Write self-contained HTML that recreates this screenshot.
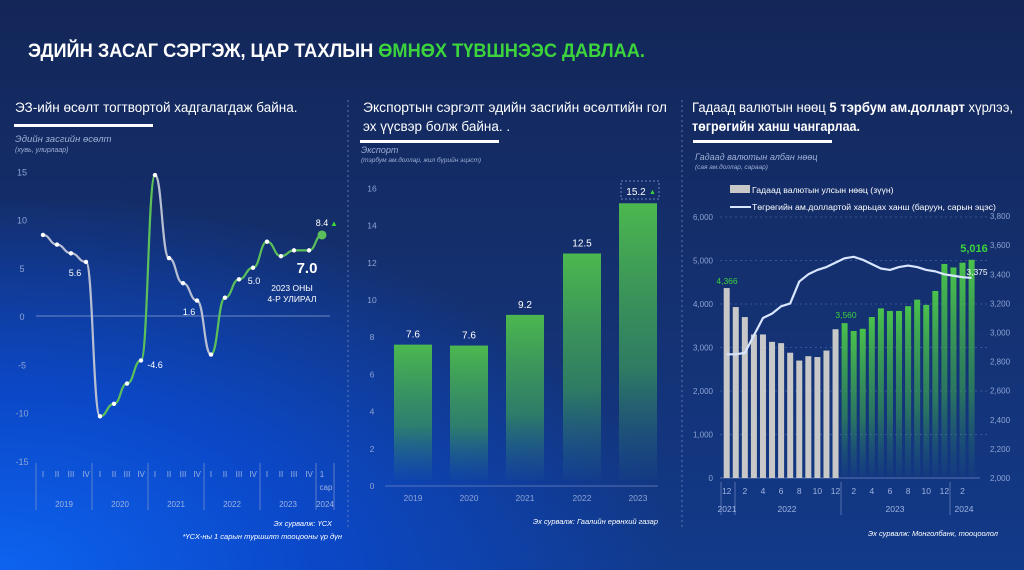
<!DOCTYPE html>
<html><head><meta charset="utf-8"><style>
html,body{margin:0;padding:0;width:1024px;height:570px;overflow:hidden;}
body{background:radial-gradient(ellipse 900px 500px at 0% 100%,#0d63f0 0%,#0b48c8 35%,rgba(16,40,120,0) 75%),linear-gradient(180deg,#132658 0%,#14306f 50%,#123a8a 100%);font-family:"Liberation Sans",sans-serif;}
svg{position:absolute;left:0;top:0}
</style></head><body>
<svg id="s" width="1024" height="570" xmlns="http://www.w3.org/2000/svg" font-family="Liberation Sans, sans-serif">
<defs>
<linearGradient id="gb" x1="0" y1="0" x2="0" y2="1"><stop offset="0" stop-color="#4cb84f"/><stop offset="0.6" stop-color="#3a9a5a" stop-opacity="0.7"/><stop offset="1" stop-color="#2f7a80" stop-opacity="0.05"/></linearGradient>
<linearGradient id="gg" x1="0" y1="0" x2="0" y2="1"><stop offset="0" stop-color="#4ac24c"/><stop offset="0.6" stop-color="#3aa050" stop-opacity="0.6"/><stop offset="1" stop-color="#2a7a70" stop-opacity="0.05"/></linearGradient>
</defs>
<text x="28" y="57" fill="#fff" font-size="19" font-weight="bold" textLength="617" lengthAdjust="spacingAndGlyphs">ЭДИЙН ЗАСАГ СЭРГЭЖ, ЦАР ТАХЛЫН <tspan fill="#3cd43c">ӨМНӨХ ТҮВШНЭЭС ДАВЛАА.</tspan></text>
<text x="15" y="112" fill="#fff" font-size="13.5">ЭЗ-ийн өсөлт тогтвортой хадгалагдаж байна.</text>
<rect x="14" y="124" width="139" height="3" fill="#fff"/>
<text x="15" y="142" fill="#9fb0d6" font-size="9.5" font-style="italic">Эдийн засгийн өсөлт</text>
<text x="15" y="152" fill="#9fb0d6" font-size="7" font-style="italic">(хувь, улирлаар)</text>
<text x="363" y="112" fill="#fff" font-size="13.5" textLength="304" lengthAdjust="spacingAndGlyphs">Экспортын сэргэлт эдийн засгийн өсөлтийн гол</text>
<text x="363" y="131" fill="#fff" font-size="13.5">эх үүсвэр болж байна. .</text>
<rect x="360" y="140" width="139" height="3" fill="#fff"/>
<text x="361" y="153" fill="#9fb0d6" font-size="9" font-style="italic">Экспорт</text>
<text x="361" y="162" fill="#9fb0d6" font-size="6.5" font-style="italic">(тэрбум ам.доллар, жил бүрийн эцэст)</text>
<text x="692" y="112" fill="#fff" font-size="13.5" textLength="321" lengthAdjust="spacingAndGlyphs">Гадаад валютын нөөц <tspan font-weight="bold">5 тэрбум ам.долларт</tspan> хүрлээ,</text>
<text x="692" y="131" fill="#fff" font-size="13.5" font-weight="bold" textLength="168" lengthAdjust="spacingAndGlyphs">төгрөгийн ханш чангарлаа.</text>
<rect x="693" y="140" width="139" height="3" fill="#fff"/>
<text x="695" y="160" fill="#9fb0d6" font-size="9" font-style="italic">Гадаад валютын албан нөөц</text>
<text x="695" y="169" fill="#9fb0d6" font-size="6.5" font-style="italic">(сая ам.доллар, сараар)</text>
<line x1="348" y1="100" x2="348" y2="530" stroke="#6f86c0" stroke-dasharray="2,3" stroke-width="0.8"/>
<line x1="682" y1="100" x2="682" y2="530" stroke="#6f86c0" stroke-dasharray="2,3" stroke-width="0.8"/>
<g id="c1"></g><g id="c2"></g><g id="c3"></g>
<text x="332" y="526" fill="#fff" font-size="7.5" font-style="italic" text-anchor="end">Эх сурвалж: ҮСХ</text>
<text x="342" y="539" fill="#fff" font-size="7.5" font-style="italic" text-anchor="end">*ҮСХ-ны 1 сарын туршилт тооцооны үр дүн</text>
<text x="658" y="524" fill="#fff" font-size="7.5" font-style="italic" text-anchor="end">Эх сурвалж: Гаалийн ерөнхий газар</text>
<text x="998" y="536" fill="#fff" font-size="7.5" font-style="italic" text-anchor="end">Эх сурвалж: Монголбанк, тооцоолол</text>
</svg>
<script>
const NS="http://www.w3.org/2000/svg";
function el(p,t,a,txt){const e=document.createElementNS(NS,t);for(const k in a)e.setAttribute(k,a[k]);if(txt!=null)e.textContent=txt;p.appendChild(e);return e;}
// chart1
const c1=document.getElementById('c1');
const Y1=v=>316-v*9.65;
[15,10,5,0,-5,-10,-15].forEach(v=>el(c1,'text',{x:22,y:Y1(v)+4,fill:'#8ea3d4','font-size':9,'text-anchor':'middle'},v));
el(c1,'line',{x1:36,y1:316,x2:330,y2:316,stroke:'#8ea3d4','stroke-width':0.8});
const xs=[43,57,71,86,100,114,127,141,155,169,183,197,211,225,239,253,267,281,294,309,322];
const vs=[8.4,7.4,6.5,5.6,-10.4,-9.1,-7.0,-4.6,14.6,6.0,3.4,1.6,-4.0,1.9,3.8,5.0,7.7,6.2,6.8,6.8,8.4];
function seg(a,b,col){let d='M'+xs[a]+','+Y1(vs[a]);for(let i=a+1;i<=b;i++){const x0=xs[i-1],y0=Y1(vs[i-1]),x=xs[i],y=Y1(vs[i]);const m=(x0+x)/2;d+=' C'+m+','+y0+' '+m+','+y+' '+x+','+y;}el(c1,'path',{d:d,fill:'none',stroke:col,'stroke-width':2.2});}
seg(0,4,'#b9bfd2');seg(4,8,'#5cc05a');seg(8,12,'#b9bfd2');seg(12,20,'#5cc05a');
xs.forEach((x,i)=>{if(i<20)el(c1,'circle',{cx:x,cy:Y1(vs[i]),r:2.2,fill:'#fff'});});
el(c1,'circle',{cx:322,cy:Y1(8.4),r:4.5,fill:'#5cc05a'});
[[75,276,'5.6'],[155,368,'-4.6'],[189,315,'1.6'],[254,284,'5.0'],[322,226,'8.4']].forEach(a=>el(c1,'text',{x:a[0],y:a[1],fill:'#fff','font-size':9,'text-anchor':'middle'},a[2]));
el(c1,'text',{x:330,y:226,fill:'#3cd43c','font-size':8},'▲');
el(c1,'text',{x:307,y:273,fill:'#fff','font-size':15,'font-weight':'bold','text-anchor':'middle'},'7.0');
el(c1,'text',{x:292,y:291,fill:'#fff','font-size':8.5,'text-anchor':'middle'},'2023 ОНЫ');
el(c1,'text',{x:292,y:302,fill:'#fff','font-size':8.5,'text-anchor':'middle'},'4-Р УЛИРАЛ');
const rom=['I','II','III','IV'];
xs.forEach((x,i)=>{if(i<20)el(c1,'text',{x:x,y:477,fill:'#9fb3e0','font-size':8,'text-anchor':'middle'},rom[i%4]);});
el(c1,'text',{x:322,y:477,fill:'#9fb3e0','font-size':8,'text-anchor':'middle'},'1');
el(c1,'text',{x:326,y:490,fill:'#9fb3e0','font-size':8,'text-anchor':'middle'},'сар');
[36,92,148,204,260,316,334].forEach(x=>el(c1,'line',{x1:x,y1:463,x2:x,y2:510,stroke:'#7f95cc','stroke-width':0.7}));
[[64,'2019'],[120,'2020'],[176,'2021'],[232,'2022'],[288,'2023'],[325,'2024']].forEach(a=>el(c1,'text',{x:a[0],y:507,fill:'#9fb3e0','font-size':8,'text-anchor':'middle'},a[1]));
// chart2
const c2=document.getElementById('c2');const Y2=v=>486-v*18.6;
for(let v=0;v<=16;v+=2)el(c2,'text',{x:372,y:Y2(v)+3,fill:'#8ea3d4','font-size':8.5,'text-anchor':'middle'},v);
el(c2,'line',{x1:385,y1:486,x2:658,y2:486,stroke:'#6f86c0','stroke-width':0.7});
[[413,7.6,'2019','7.6'],[469,7.55,'2020','7.6'],[525,9.2,'2021','9.2'],[582,12.5,'2022','12.5'],[638,15.2,'2023','']].forEach(b=>{
el(c2,'rect',{x:b[0]-19,y:Y2(b[1]),width:38,height:b[1]*18.6-6,fill:'url(#gb)'});
el(c2,'text',{x:b[0],y:501,fill:'#8ea3d4','font-size':8.5,'text-anchor':'middle'},b[2]);
if(b[3])el(c2,'text',{x:b[0],y:Y2(b[1])-7,fill:'#fff','font-size':10,'text-anchor':'middle'},b[3]);});
el(c2,'rect',{x:621,y:181,width:38,height:18,fill:'none',stroke:'#7fa0d8','stroke-dasharray':'2,2','stroke-width':0.8});
el(c2,'text',{x:636,y:195,fill:'#fff','font-size':10,'text-anchor':'middle'},'15.2');
el(c2,'text',{x:649,y:194,fill:'#3cd43c','font-size':7},'▲');
// chart3
const c3=document.getElementById('c3');const YL=v=>478-v*0.0435,YR=v=>478-(v-2000)*0.1455;
for(let v=0;v<=6000;v+=1000){el(c3,'text',{x:713,y:YL(v)+3,fill:'#8ea3d4','font-size':8,'text-anchor':'end'},v.toLocaleString('en-US'));el(c3,'line',{x1:720,y1:YL(v),x2:990,y2:YL(v),stroke:'#5f78b8','stroke-dasharray':'2,3','stroke-width':0.6,opacity:v?1:0});}
for(let v=2000;v<=3800;v+=200)el(c3,'text',{x:990,y:YR(v)+3,fill:'#8ea3d4','font-size':8},v.toLocaleString('en-US'));
el(c3,'line',{x1:720,y1:478,x2:980,y2:478,stroke:'#6f86c0','stroke-width':0.7});
const grey=[4366,3930,3700,3300,3300,3130,3100,2880,2700,2800,2780,2930,3420];
const green=[3560,3380,3430,3700,3900,3840,3840,3950,4100,3980,4300,4920,4840,4950,5016];
const bx=i=>726.7+i*9.07;
grey.forEach((v,i)=>el(c3,'rect',{x:bx(i)-3,y:YL(v),width:6,height:478-YL(v),fill:'#c8c8c8'}));
green.forEach((v,i)=>el(c3,'rect',{x:bx(i+13)-3,y:YL(v),width:6,height:478-YL(v),fill:'url(#gg)'}));
const line=[2850,2850,2860,2980,3100,3130,3180,3200,3350,3400,3430,3450,3480,3510,3520,3500,3470,3440,3430,3450,3460,3450,3430,3420,3400,3390,3380,3375];
let d='';line.forEach((v,i)=>{d+=(i?' L':'M')+bx(i)+','+YR(v);});
el(c3,'path',{d:d,fill:'none',stroke:'#d8e6ff','stroke-width':2.2,'stroke-linejoin':'round'});
el(c3,'text',{x:727,y:284,fill:'#3cd43c','font-size':8.5,'text-anchor':'middle'},'4,366');
el(c3,'text',{x:846,y:318,fill:'#3cd43c','font-size':8.5,'text-anchor':'middle'},'3,560');
el(c3,'text',{x:974,y:252,fill:'#3cd43c','font-size':11,'font-weight':'bold','text-anchor':'middle'},'5,016');
el(c3,'text',{x:977,y:275,fill:'#fff','font-size':8.5,'text-anchor':'middle'},'3,375');
el(c3,'rect',{x:730,y:185,width:20,height:8,fill:'#c8c8c8'});
el(c3,'text',{x:752,y:193,fill:'#fff','font-size':8.7},'Гадаад валютын улсын нөөц (зүүн)');
el(c3,'line',{x1:730,y1:207,x2:751,y2:207,stroke:'#d8e6ff','stroke-width':2});
el(c3,'text',{x:752,y:210,fill:'#fff','font-size':8.7},'Төгрөгийн ам.доллартой харьцах ханш (баруун, сарын эцэс)');
['12','2','4','6','8','10','12','2','4','6','8','10','12','2'].forEach((t,k)=>el(c3,'text',{x:bx(k*2),y:494,fill:'#9fb3e0','font-size':8.5,'text-anchor':'middle'},t));
[721,735,841,950].forEach(x=>el(c3,'line',{x1:x,y1:482,x2:x,y2:515,stroke:'#7f95cc','stroke-width':0.6}));
[[727,'2021'],[787,'2022'],[895,'2023'],[964,'2024']].forEach(a=>el(c3,'text',{x:a[0],y:512,fill:'#9fb3e0','font-size':8.5,'text-anchor':'middle'},a[1]));
</script>
</body></html>
